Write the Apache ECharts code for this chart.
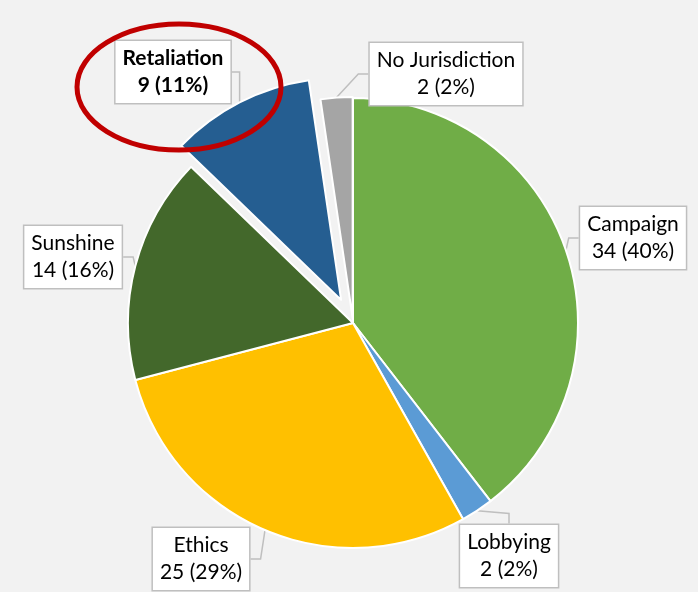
<!DOCTYPE html>
<html>
<head>
<meta charset="utf-8">
<script src="https://cdn.jsdelivr.net/npm/echarts@6/dist/echarts.min.js"></script>
<style>
  html, body { margin: 0; padding: 0; background: #f2f2f2; }
  #main { width: 698px; height: 592px; }
</style>
</head>
<body>
<div id="main"></div>
<script>
const categories = ["Campaign", "Lobbying", "Ethics", "Sunshine", "Retaliation", "No Jurisdiction"];
const counts = [34, 2, 25, 14, 9, 2];
const percents = [40, 2, 29, 16, 11, 2];

const colors = ["#70ad47", "#5b9bd5", "#ffc000", "#43682b", "#255e91", "#a5a5a5"];
// which pie layer draws each slice (0 = main, 1 = retaliation pulled out, 2 = no jurisdiction pulled out a bit)
const layerOf = [0, 0, 0, 0, 1, 2];
// callout box centres
const labelPos = [[633, 238], [509, 556], [201, 559], [73, 257], [173, 72], [446, 74]];

const cx = 353, cy = 323;
const total = counts.reduce((a, b) => a + b, 0);

var myChart = echarts.init(document.getElementById("main"));

// pull a layer out along the middle angle of its slice(s)
function layerCenter(n, offset) {
  let before = 0, span = 0;
  counts.forEach((v, i) => {
    if (layerOf[i] === n) span += v;
    else if (span === 0) before += v;
  });
  const a = ((before + span / 2) / total) * Math.PI * 2;
  return [cx + Math.sin(a) * offset, cy - Math.cos(a) * offset];
}

function layer(n, radius, offset) {
  return {
    type: "pie",
    center: layerCenter(n, offset),
    radius: radius,
    startAngle: 90,
    clockwise: true,
    avoidLabelOverlap: false,
    emphasis: { disabled: true },
    itemStyle: { borderColor: "#fff", borderWidth: 2 },
    label: {
      position: "outside",
      formatter: (p) => p.name + "\n" + p.value + " (" + percents[p.dataIndex] + "%)",
      color: "#000",
      fontFamily: "Lato",
      fontSize: 21,
      lineHeight: 27,
      align: "center",
      backgroundColor: "#fff",
      borderColor: "#bfbfbf",
      borderWidth: 1.5,
      padding: [4, 7],
    },
    labelLine: {
      length: 10,
      length2: 10,
      lineStyle: { color: "#bfbfbf", width: 1.5 },
    },
    labelLayout: (p) => {
      if (layerOf[p.dataIndex] !== n) return;
      const pos = labelPos[p.dataIndex];
      return { x: pos[0], y: pos[1], align: "center", verticalAlign: "middle" };
    },
    data: categories.map((name, i) => {
      const on = layerOf[i] === n;
      return {
        name: name,
        value: counts[i],
        itemStyle: on ? { color: colors[i] } : { color: "rgba(0,0,0,0)", borderWidth: 0 },
        label: on ? { show: true, fontWeight: i === 4 ? "bold" : "normal" } : { show: false },
        labelLine: { show: on },
      };
    }),
  };
}

myChart.setOption({
  animation: false,
  backgroundColor: "#f2f2f2",
  series: [layer(0, 225, 0), layer(1, 222, 26), layer(2, 221, 5)],
  graphic: [
    {
      type: "ellipse",
      z: 100,
      shape: { cx: 179, cy: 87, rx: 102, ry: 63 },
      style: { fill: "none", stroke: "#c00000", lineWidth: 5 },
    },
  ],
});
</script>
</body>
</html>
